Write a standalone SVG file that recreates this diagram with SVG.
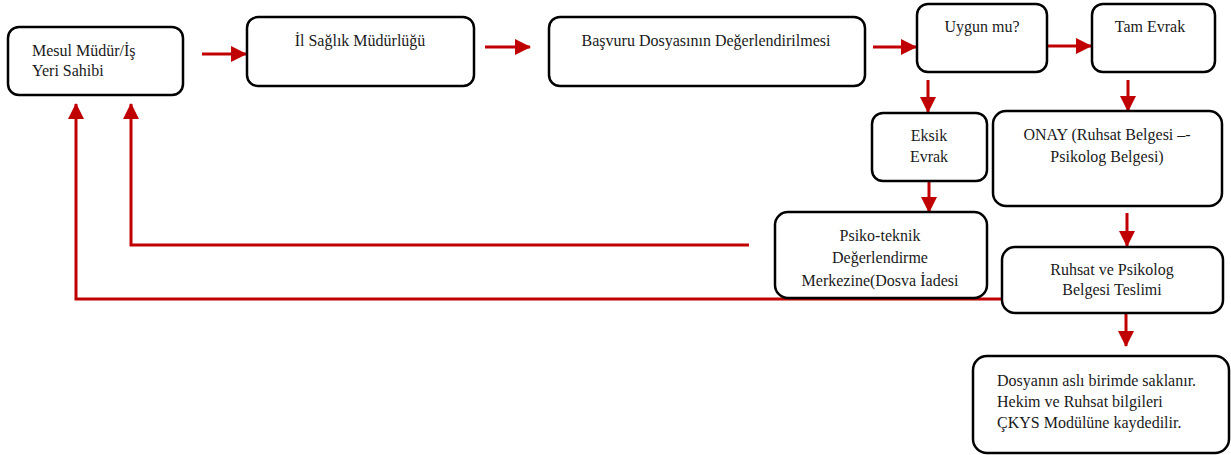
<svg xmlns="http://www.w3.org/2000/svg" width="1231" height="455" viewBox="0 0 1231 455">
  <style>
    .box { fill: #ffffff; stroke: #000000; stroke-width: 2.5; }
    .lbl { font-size: 16px; fill: #1a1a1a; }
    .mid { text-anchor: middle; }
    .flow { fill: none; stroke: #C00000; stroke-width: 3; }
  </style>
  <defs>
    <marker id="head" markerUnits="userSpaceOnUse" markerWidth="16" markerHeight="16" viewBox="0 0 16 16" refX="15" refY="8" orient="auto">
      <path d="M0,0 L16,8 L0,16 Z" fill="#C00000"/>
    </marker>
  </defs>

  <!-- connectors -->
  <g id="connectors">
    <line class="flow" x1="202" y1="54" x2="246" y2="54" marker-end="url(#head)"/>
    <line class="flow" x1="485" y1="47" x2="530" y2="47" marker-end="url(#head)"/>
    <line class="flow" x1="873" y1="47" x2="916" y2="47" marker-end="url(#head)"/>
    <line class="flow" x1="1047" y1="46" x2="1091" y2="46" marker-end="url(#head)"/>
    <line class="flow" x1="928" y1="80" x2="928" y2="112" marker-end="url(#head)"/>
    <line class="flow" x1="1128" y1="80" x2="1128" y2="111" marker-end="url(#head)"/>
    <line class="flow" x1="929" y1="181" x2="929" y2="212" marker-end="url(#head)"/>
    <line class="flow" x1="1127" y1="213" x2="1127" y2="246" marker-end="url(#head)"/>
    <line class="flow" x1="1126" y1="313" x2="1126" y2="346" marker-end="url(#head)"/>
    <polyline class="flow" points="749,245 131,245 131,104" marker-end="url(#head)"/>
    <polyline class="flow" points="1003,299 76,299 76,104" marker-end="url(#head)"/>
  </g>

  <!-- nodes; all labels share one serif face -->
  <g font-family="'Liberation Serif', 'DejaVu Serif', serif">
    <g id="mesul-mudur">
      <rect class="box" x="8" y="27" width="175" height="68" rx="11"/>
      <text class="lbl" x="32" y="56">Mesul Müdür/İş</text>
      <text class="lbl" x="32" y="76">Yeri Sahibi</text>
    </g>
    <g id="il-saglik">
      <rect class="box" x="247" y="17" width="227" height="69" rx="11"/>
      <text class="lbl mid" x="360" y="46">İl Sağlık Müdürlüğü</text>
    </g>
    <g id="basvuru">
      <rect class="box" x="549" y="17" width="316" height="69" rx="11"/>
      <text class="lbl mid" x="706" y="46">Başvuru Dosyasının Değerlendirilmesi</text>
    </g>
    <g id="uygun-mu">
      <rect class="box" x="917" y="4" width="130" height="68" rx="11"/>
      <text class="lbl mid" x="982" y="32">Uygun mu?</text>
    </g>
    <g id="tam-evrak">
      <rect class="box" x="1092" y="4" width="123" height="68" rx="11"/>
      <text class="lbl mid" x="1150" y="32">Tam Evrak</text>
    </g>
    <g id="eksik-evrak">
      <rect class="box" x="872" y="113" width="115" height="68" rx="11"/>
      <text class="lbl mid" x="929" y="141">Eksik</text>
      <text class="lbl mid" x="929" y="162">Evrak</text>
    </g>
    <g id="onay">
      <rect class="box" x="993" y="111" width="229" height="95" rx="13"/>
      <text class="lbl mid" x="1107" y="140">ONAY (Ruhsat Belgesi –-</text>
      <text class="lbl mid" x="1107" y="162">Psikolog Belgesi)</text>
    </g>
    <g id="psiko-teknik">
      <rect class="box" x="775" y="212" width="212" height="86" rx="13"/>
      <text class="lbl mid" x="880" y="241">Psiko-teknik</text>
      <text class="lbl mid" x="880" y="263">Değerlendirme</text>
      <text class="lbl mid" x="880" y="286">Merkezine(Dosva İadesi</text>
    </g>
    <g id="ruhsat-teslim">
      <rect class="box" x="1002" y="247" width="221" height="66" rx="13"/>
      <text class="lbl mid" x="1112" y="275">Ruhsat ve Psikolog</text>
      <text class="lbl mid" x="1112" y="295">Belgesi Teslimi</text>
    </g>
    <g id="arsiv">
      <rect class="box" x="973" y="356" width="256" height="97" rx="14"/>
      <text class="lbl" x="997" y="386">Dosyanın aslı birimde saklanır.</text>
      <text class="lbl" x="997" y="407">Hekim ve Ruhsat bilgileri</text>
      <text class="lbl" x="997" y="428">ÇKYS Modülüne kaydedilir.</text>
    </g>
  </g>
</svg>
